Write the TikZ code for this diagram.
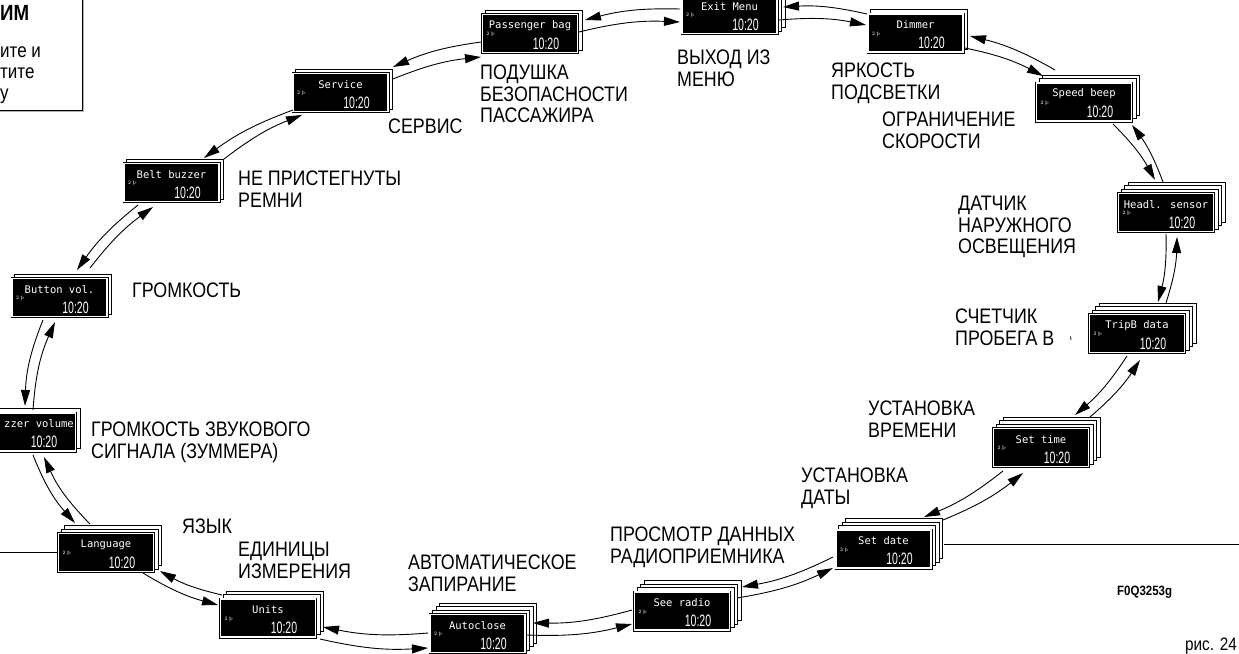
\documentclass[tikz,border=0pt]{standalone}
\usepackage{fontspec}
\usepackage{graphicx}
\usetikzlibrary{arrows.meta,calc}
\newfontfamily\rusf[FakeStretch=0.85]{Liberation Sans}
\newfontfamily\lcdf{DejaVu Sans Mono}
\tikzset{
  shbox/.style={draw=black, fill=white, line width=0.6pt},
  disp/.style={rectangle, inner sep=0pt, minimum width=95pt, minimum height=38pt, fill=black, draw=black, line width=0.6pt, double=white, double distance=1.8pt},
  lcdlab/.style={text=white, font=\lcdf\fontsize{10.5}{11}\selectfont, inner sep=0pt},
  lcdico/.style={text=white, font=\ttfamily\fontsize{5.5}{6}\selectfont, inner sep=0pt},
  lcdtime/.style={text=white, font=\rusf\fontsize{16.5}{16.5}\selectfont, inner sep=0pt},
  rucap/.style={font=\rusf\fontsize{21}{21.5}\selectfont, align=left, anchor=north west, inner sep=0pt},
  cuttext/.style={font=\rusf\fontsize{20}{20}\selectfont, anchor=base west, inner sep=0pt},
  arr/.style={line width=0.9pt, -{Triangle[length=16pt,width=9pt]}},
  boxline/.style={line width=0.8pt},
}
\newcommand\lcdshadows[3]{%
  \foreach \k in {#3,...,1}{\draw[shbox] ({#1-48.5+3.5*\k},{#2-20+3.5*\k}) rectangle ++(97,40);}}
\newcommand\lcdunit[5]{%
  \lcdshadows{#2}{#3}{#5}
  \node[disp] (#1) at (#2,#3) {};
  \node[lcdlab] (#1-l) at ($(#1)+(0,8)$) {#4};
  \node[lcdico] (#1-i) at ($(#1)+(-39,-1)$) {2\,$\vert\!\triangleright$};
  \node[lcdtime] (#1-t) at ($(#1)+(16,-10)$) {\scalebox{0.75}[1]{10:20}};
}
\begin{document}
\begin{tikzpicture}[x=1pt,y=1pt]
\useasboundingbox (0,0) rectangle (1239,-653);
\clip (0,0) rectangle (1239,-653);
\fill[white] (0,0) rectangle (1239,-653);

% top-left partial box
\draw[gray!60, line width=1pt] (-5,-111.5) -| (83.6,5);
\draw[boxline] (-5,-110) -| (82,5);
\node[font=\rusf\bfseries\fontsize{22}{22}\selectfont, anchor=base west, inner sep=0pt] (t1) at (0,-20) {ИМ};
\node[cuttext] (t2) at (0,-57) {ите и};
\node[cuttext] (t3) at (0,-78) {тите};
\node[cuttext] (t4) at (0,-99.5) {у};

% displays
\lcdunit{passenger}{530}{-33.5}{Passenger bag}{1}
\lcdunit{exit}{729.5}{-14.5}{Exit Menu}{2}
\lcdunit{dimmer}{915.5}{-33}{Dimmer}{1}
\lcdunit{speed}{1084}{-102}{Speed beep}{2}
\lcdunit{headl}{1166}{-212.5}{Headl. sensor}{3}
\lcdunit{tripb}{1137}{-333.5}{TripB data}{3}
\lcdunit{settime}{1041}{-447.5}{Set time}{3}
\lcdunit{setdate}{883.5}{-549}{Set date}{3}
\lcdunit{radio}{682}{-611}{See radio}{3}
\lcdunit{autoclose}{477.5}{-633.5}{Autoclose}{3}
\lcdunit{units}{268}{-618}{Units}{2}
\lcdunit{language}{106}{-552.5}{Language}{2}
\lcdunit{button}{59.5}{-297.5}{Button vol.}{1}
\lcdunit{belt}{171.5}{-182.5}{Belt buzzer}{1}
\lcdunit{service}{340.5}{-92.5}{Service}{1}
% buzzer volume display, cut by the left edge
\lcdshadows{28}{-432}{1}
\node[disp] (buzzer) at (28,-432) {};
\node[lcdlab] (buzzer-l) at ($(buzzer)+(11,8)$) {zzer volume};
\node[lcdtime] (buzzer-t) at ($(buzzer)+(16,-10)$) {\scalebox{0.75}[1]{10:20}};

% horizontal rules
\coordinate (lstart) at (0,-552.5);
\coordinate (rend) at (1239,-544);
\draw[boxline] (language.west) -- (lstart);
\draw[boxline] ($(setdate)+(60,5)$) -- (rend);

% arrows
\draw[arr] ($(passenger)+(49,1.5)$) to[bend left=8] ($(exit)+(-49.5,-7.5)$);
\draw[arr] ($(exit)+(-49.5,5.5)$) to[bend right=8] ($(passenger)+(55,13.5)$);
\draw[arr] ($(exit)+(49.5,-5.5)$) to[bend left=8] ($(dimmer)+(-49.5,8)$);
\draw[arr] ($(dimmer)+(-48.5,19)$) to[bend right=8] ($(exit)+(53.5,7.5)$);
\draw[arr] ($(dimmer)+(49.5,-15)$) to[bend left=8] ($(speed)+(-41,26)$);
\draw[arr] ($(speed)+(-29,32)$) to[bend right=8] ($(dimmer)+(54.5,-3)$);
\draw[arr] ($(speed)+(29,-22)$) to[bend left=8] ($(headl)+(-11,32.5)$);
\draw[arr] ($(headl)+(-3,30.5)$) to[bend right=8] ($(speed)+(48,-23)$);
\draw[arr] ($(headl)+(0,-21.5)$) to[bend left=8] ($(tripb)+(21,31.5)$);
\draw[arr] ($(tripb)+(29,30.5)$) to[bend right=8] ($(headl)+(11,-24.5)$);
\draw[arr] ($(tripb)+(-10,-22.5)$) to[bend left=8] ($(settime)+(34,32.5)$);
\draw[arr] ($(settime)+(49,30.5)$) to[bend right=8] ($(tripb)+(3,-26.5)$);
\draw[arr] ($(settime)+(-38,-23.5)$) to[bend left=8] ($(setdate)+(40.5,32)$);
\draw[arr] ($(setdate)+(59.5,29)$) to[bend right=8] ($(settime)+(-18,-25.5)$);
\draw[arr] ($(setdate)+(-50.5,-8)$) to[bend left=8] ($(radio)+(60,24)$);
\draw[arr] ($(radio)+(55,13)$) to[bend right=8] ($(setdate)+(-50.5,-19)$);
\draw[arr] ($(radio)+(-50,1)$) to[bend left=8] ($(autoclose)+(55.5,10.5)$);
\draw[arr] ($(autoclose)+(49.5,-1.5)$) to[bend right=8] ($(radio)+(-50,-13)$);
\draw[arr] ($(autoclose)+(-49.5,0.5)$) to[bend left=8] ($(units)+(55,-9)$);
\draw[arr] ($(units)+(52,-21)$) to[bend right=8] ($(autoclose)+(-49.5,-14.5)$);
\draw[arr] ($(units)+(-46,23)$) to[bend left=8] ($(language)+(54,-18.5)$);
\draw[arr] ($(language)+(37,-20.5)$) to[bend right=8] ($(units)+(-50,13)$);
\draw[arr] ($(language)+(-16,28.5)$) to[bend left=10] ($(buzzer)+(16,-25)$);
\draw[arr] ($(buzzer)+(5,-23)$) to[bend right=10] ($(language)+(-31,29.5)$);
\draw[arr] ($(buzzer)+(5,22)$) to[bend left=10] ($(button)+(-4.5,-24.5)$);
\draw[arr] ($(button)+(-16.5,-22.5)$) to[bend right=10] ($(buzzer)+(-3,26)$);
\draw[arr] ($(button)+(30.5,29.5)$) to[bend left=8] ($(belt)+(-18.5,-24.5)$);
\draw[arr] ($(belt)+(-33.5,-22.5)$) to[bend right=8] ($(button)+(17.5,27.5)$);
\draw[arr] ($(belt)+(52.5,23.5)$) to[bend left=8] ($(service)+(-38.5,-22.5)$);
\draw[arr] ($(service)+(-47.5,-17.5)$) to[bend right=8] ($(belt)+(32.5,24.5)$);
\draw[arr] ($(service)+(52.5,13.5)$) to[bend left=8] ($(passenger)+(-49,-23.5)$);
\draw[arr] ($(passenger)+(-49,-8.5)$) to[bend right=8] ($(service)+(52.5,25.5)$);

% captions
\node[rucap] (c1) at (480,-65) {ПОДУШКА\\БЕЗОПАСНОСТИ\\ПАССАЖИРА};
\node[rucap] (c2) at (677,-50) {ВЫХОД ИЗ\\МЕНЮ};
\node[rucap] (c3) at (831,-63) {ЯРКОСТЬ\\ПОДСВЕТКИ};
\node[rucap] (c4) at (882,-112) {ОГРАНИЧЕНИЕ\\СКОРОСТИ};
\node[rucap] (c5) at (958,-196) {ДАТЧИК\\НАРУЖНОГО\\ОСВЕЩЕНИЯ};
\node[rucap] (c6) at (955,-309) {СЧЕТЧИК\\ПРОБЕГА В};
\node[rucap] (c7) at (868,-401) {УСТАНОВКА\\ВРЕМЕНИ};
\node[rucap] (c8) at (801,-468) {УСТАНОВКА\\ДАТЫ};
\node[rucap] (c9) at (610,-527) {ПРОСМОТР ДАННЫХ\\РАДИОПРИЕМНИКА};
\node[rucap] (c10) at (408,-555) {АВТОМАТИЧЕСКОЕ\\ЗАПИРАНИЕ};
\node[rucap] (c11) at (182,-519) {ЯЗЫК};
\node[rucap] (c12) at (238,-542) {ЕДИНИЦЫ\\ИЗМЕРЕНИЯ};
\node[rucap] (c13) at (91,-422) {ГРОМКОСТЬ ЗВУКОВОГО\\СИГНАЛА (ЗУММЕРА)};
\node[rucap] (c14) at (132,-283) {ГРОМКОСТЬ};
\node[rucap] (c15) at (238,-171) {НЕ ПРИСТЕГНУТЫ\\РЕМНИ};
\node[rucap] (c16) at (388,-119) {СЕРВИС};
\draw[line width=0.8pt] (1070.5,-336.5) -- (1071,-340);

% codes
\node[font=\rusf\bfseries\fontsize{13.5}{13.5}\selectfont, anchor=base west, inner sep=0pt] (code) at (1117,-595) {F0Q3253g};
\node[font=\rusf\fontsize{18}{18}\selectfont, anchor=base east, inner sep=0pt] (fig) at (1237,-650) {рис. 24};
\end{tikzpicture}
\end{document}
